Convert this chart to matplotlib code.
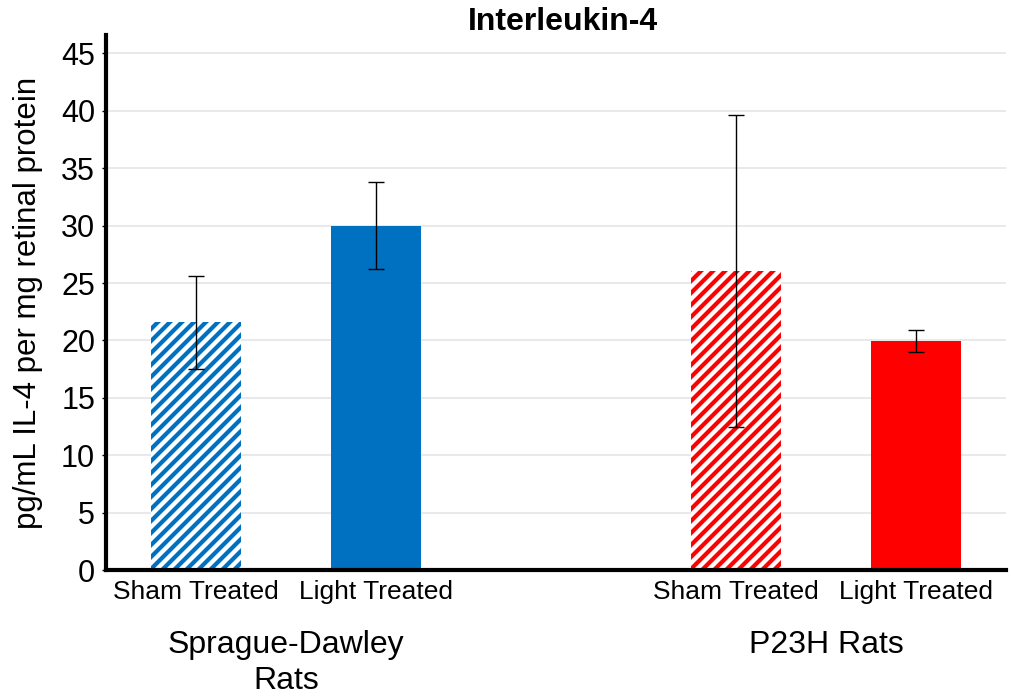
import matplotlib
matplotlib.use("Agg")
import matplotlib.pyplot as plt

# drawn at 72 dpi so the hatch spacing matches the reference (12 px stripes);
# sizes below are given as if at 100 dpi and scaled by pt()
DPI = 72


def pt(v):
    return v * 100 / DPI


plt.rcParams['font.family'] = ['Liberation Sans', 'DejaVu Sans']
plt.rcParams['hatch.linewidth'] = 4.2

# data
treatments = ["Sham Treated", "Light Treated", "Sham Treated", "Light Treated"]
groups = ["Sprague-Dawley\nRats", "P23H Rats"]
means = [21.6, 30.0, 26.05, 19.95]
errors = [4.05, 3.8, 13.6, 0.95]
colors = ["#0070C0", "#0070C0", "#FF0000", "#FF0000"]
hatched = [True, False, True, False]
positions = [0, 1, 3, 4]

fig = plt.figure(figsize=(1011 / DPI, 698 / DPI), dpi=DPI)
ax = fig.add_axes([0.105, 0.183, 0.89, 0.767])

for x, m, e, c, h in zip(positions, means, errors, colors, hatched):
    if h:
        ax.bar(x, m, width=0.5, facecolor="white", edgecolor=c, hatch="//", linewidth=0, zorder=2)
    else:
        ax.bar(x, m, width=0.5, color=c, linewidth=0, zorder=2)
    ax.errorbar(x, m, yerr=e, fmt="none", ecolor="black", elinewidth=pt(1),
                capsize=pt(6), capthick=pt(1), zorder=3)

ax.set_xlim(-0.5, 4.5)
ax.set_ylim(0, 46.6)
ax.set_yticks(range(0, 50, 5))
ax.tick_params(axis='y', labelsize=pt(22), length=pt(3), width=pt(1), pad=pt(5))
ax.set_xticks(positions)
ax.set_xticklabels(treatments)
ax.tick_params(axis='x', labelsize=pt(19), length=0, pad=pt(7))
ax.yaxis.grid(True, color="#e3e5ea", linewidth=pt(1.2), zorder=0)
ax.set_axisbelow(True)

for s in ["top", "right"]:
    ax.spines[s].set_visible(False)
ax.spines["left"].set_linewidth(pt(3))
ax.spines["bottom"].set_linewidth(pt(3))

for gx, g in zip([0.5, 3.5], groups):
    ax.text(gx, -0.112, g, transform=ax.get_xaxis_transform(), ha="center", va="top",
            fontsize=pt(23), linespacing=1.25)

ax.set_ylabel("pg/mL IL-4 per mg retinal protein", fontsize=pt(22.5), labelpad=pt(13))
fig.text(0.557, 0.968, "Interleukin-4", ha="center", va="center", fontsize=pt(23), fontweight="bold")

fig.savefig("out.png", dpi=DPI)
